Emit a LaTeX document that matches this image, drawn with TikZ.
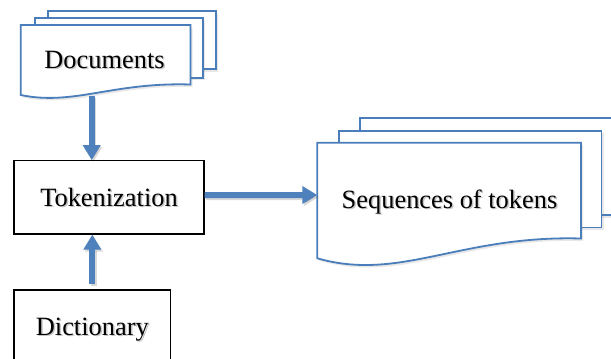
\documentclass[tikz,border=0pt]{standalone}
\usepackage{fontspec}
\setmainfont{Liberation Serif}
\usetikzlibrary{arrows.meta,shadows}
\definecolor{sheetblue}{HTML}{4A7EBB}
\definecolor{arrowblue}{HTML}{4F81BD}
\newcommand\shtxt[1]{\rlap{\kern1.5pt\raisebox{-1.5pt}{\color{black!22}#1}}#1}
\tikzset{
  sheet/.style={draw=sheetblue, line width=1.8pt, fill=white, line join=miter},
  sheetsh/.style={sheet, drop shadow={opacity=0.18, shadow xshift=2pt, shadow yshift=-2.5pt}},
  plainbox/.style={draw=black, line width=1.2pt, fill=white, inner sep=0pt, text height=17.5pt, text depth=0pt},
  txt/.style={font=\fontsize{26.4}{30}\selectfont, inner sep=0pt},
  bigarrow/.style={draw=arrowblue, fill=arrowblue, line width=6pt, -{Triangle[length=15pt,width=17pt]}},
  arrowshadow/.style={bigarrow, draw=black, fill=black, opacity=0.15, transform canvas={shift={(1.5pt,-2pt)}}},
}
\begin{document}
\begin{tikzpicture}[x=1pt,y=-1pt]
\useasboundingbox (0,0) rectangle (611,359);
\clip (0,0) rectangle (611,359);
% Documents stack
\draw[sheetsh] (47.7,11) rectangle (216,69);
\draw[sheetsh] (34.7,18.3) rectangle (202.7,77.7);
\draw[sheetsh] (20.7,25) -- (190.5,25) -- (190.5,84.5) .. controls (112.5,82) and (73.7,106) .. (20.7,95) -- cycle;
\node[txt, anchor=base] (docs) at (104.5,68.3) {\shtxt{Documents}};
\coordinate (docsB) at (91.7,95.5);
% Sequences stack
\draw[sheetsh] (360,118.3) rectangle (630,215);
\draw[sheetsh] (339.3,130.7) rectangle (601.5,227.5);
\draw[sheetsh] (317.3,142.7) -- (581,142.7) -- (581,238.5) .. controls (460,235) and (400,282) .. (317.3,258.3) -- cycle;
\node[txt, anchor=base] (seq) at (449.5,208.3) {\shtxt{Sequences of tokens}};
\coordinate (seqL) at (317.3,195);
% Boxes
\node[plainbox, txt, minimum width=190pt, minimum height=73.3pt] (tok) at (109,197.35) {\shtxt{Tokenization}};
\node[plainbox, txt, minimum width=156.7pt, minimum height=73pt] (dict) at (92.3,326.5) {\shtxt{Dictionary}};
% Arrows
\draw[arrowshadow] (docsB) -- (docsB |- tok.north);
\draw[bigarrow] (docsB) -- (docsB |- tok.north);
\draw[arrowshadow] ([yshift=5pt]dict.north) -- (dict.north |- tok.south);
\draw[bigarrow] ([yshift=5pt]dict.north) -- (dict.north |- tok.south);
\draw[arrowshadow] ([yshift=2.3pt]tok.east) -- (seqL);
\draw[bigarrow] ([yshift=2.3pt]tok.east) -- (seqL);
\end{tikzpicture}
\end{document}
